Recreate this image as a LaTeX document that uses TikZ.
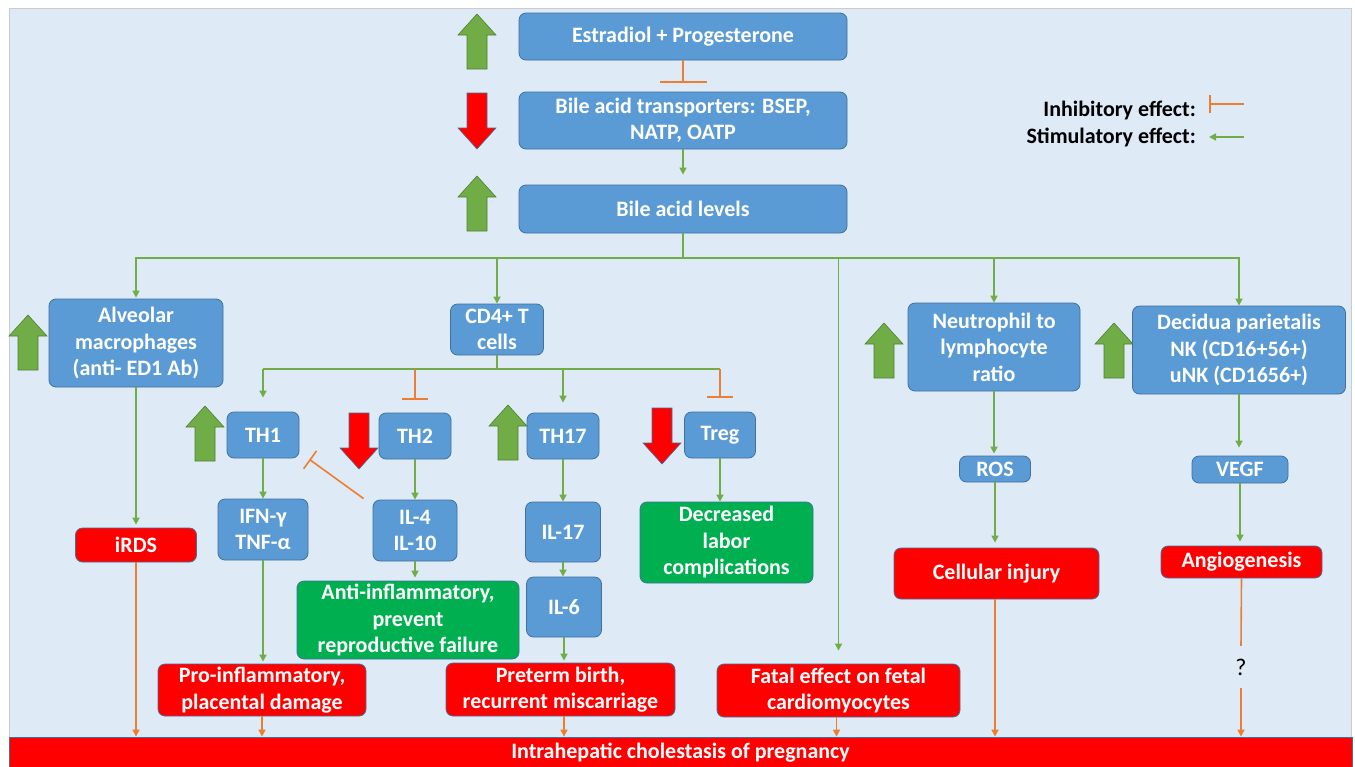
\documentclass[tikz,border=0pt]{standalone}
\usepackage{fontspec}
\setmainfont{Carlito}
\usetikzlibrary{arrows.meta}
\definecolor{boxblue}{HTML}{5B9BD5}
\definecolor{boxline}{HTML}{41719C}
\definecolor{boxred}{HTML}{FF0000}
\definecolor{boxgreen}{HTML}{00B050}
\definecolor{stimgreen}{HTML}{70AD47}
\definecolor{stimdark}{HTML}{507E32}
\definecolor{inhorange}{HTML}{ED7D31}
\definecolor{bgblue}{HTML}{DEEBF7}

\begin{document}
\begin{tikzpicture}[x=1pt, y=-1pt,
    boxbase/.style={rectangle, rounded corners=7pt, draw=boxline, line width=0.8pt,
                    text=white, font=\fontsize{22}{26.5}\selectfont\bfseries,
                    align=center, inner sep=1pt},
    bluebox/.style={boxbase, fill=boxblue},
    redbox/.style={boxbase, fill=boxred},
    greenbox/.style={boxbase, fill=boxgreen},
    sz/.style 2 args={minimum width=#1pt, minimum height=#2pt},
    stim/.style={-{Triangle[length=7pt,width=7pt]}, line width=1.6pt, color=stimgreen},
    inhib/.style={-{Bar[width=26pt]}, line width=1.6pt, color=inhorange},
    effect/.style={-{Triangle[length=7pt,width=7pt]}, line width=1.6pt, color=inhorange},
    legend/.style={font=\fontsize{22}{26}\selectfont\bfseries, inner sep=0pt},
    upblk/.pic={\filldraw[fill=stimgreen, draw=stimdark, line width=0.6pt]
        (19,0) -- (38,21) -- (29,21) -- (29,55) -- (9,55) -- (9,21) -- (0,21) -- cycle;},
    downblk/.pic={\filldraw[fill=boxred, draw=boxline, line width=0.6pt]
        (9,0) -- (29,0) -- (29,35) -- (38,35) -- (19,56) -- (0,35) -- (9,35) -- cycle;}
  ]
    \useasboundingbox (0,0) rectangle (1355,766);
    \filldraw[fill=bgblue, draw=black!20] (9,8) rectangle (1351,770);

    % top chain
    \node[bluebox, sz={328}{47}] (est) at (683,36.5) {Estradiol + Progesterone};
    \node[bluebox, sz={328}{57}] (bat) at (683,120.5) {Bile acid transporters: BSEP,\\NATP, OATP};
    \node[bluebox, sz={328}{48}] (bal) at (683,209) {Bile acid levels};
    \pic at (458,14) {upblk};
    \pic at (458,93) {downblk};
    \pic at (458,176) {upblk};

    % second level
    \node[bluebox, sz={174}{88}] (alv) at (136,343) {Alveolar\\macrophages\\(anti- ED1 Ab)};
    \node[bluebox, sz={93}{51}] (cd4) at (497,329.5) {CD4+ T\\cells};
    \node[bluebox, sz={172}{88}] (neu) at (994,347) {Neutrophil to\\lymphocyte\\ratio};
    \node[bluebox, sz={213}{88}] (dec) at (1239,350) {Decidua parietalis\\NK (CD16+56+)\\uNK (CD1656+)};
    \pic at (9,315) {upblk};
    \pic at (865,323) {upblk};
    \pic at (1095,323) {upblk};

    % T cell subsets
    \node[bluebox, sz={72}{46}] (th1) at (263,435) {TH1};
    \node[bluebox, sz={72}{46}] (th2) at (415,436) {TH2};
    \node[bluebox, sz={72}{46}] (th17) at (563,436) {TH17};
    \node[bluebox, sz={71}{46}] (treg) at (720,435) {Treg};
    \pic at (186,406) {upblk};
    \pic at (340,413) {downblk};
    \pic at (489,405) {upblk};
    \pic at (643,408) {downblk};

    % mediators
    \node[bluebox, sz={90}{61}] (ifn) at (263,529.5) {IFN-γ\\TNF-α};
    \node[bluebox, sz={84}{61}] (il4) at (415,530.5) {IL-4\\IL-10};
    \node[bluebox, sz={75}{60}] (il17) at (563,532) {IL-17};
    \node[bluebox, sz={75}{60}] (il6) at (564,607) {IL-6};
    \node[bluebox, sz={71}{26}] (ros) at (995,469) {ROS};
    \node[bluebox, sz={96}{27}] (vegf) at (1240,469.5) {VEGF};

    % outcomes
    \node[redbox, sz={121}{34}] (irds) at (136,545) {iRDS};
    \node[greenbox, sz={222}{78}] (anti) at (408,620) {Anti-inflammatory,\\prevent\\reproductive failure};
    \node[greenbox, sz={173}{81}] (decr) at (726.5,542.5) {Decreased\\labor\\complications};
    \node[redbox, sz={208}{52}] (pro) at (262,690) {Pro-inflammatory,\\placental damage};
    \node[redbox, sz={229}{53}] (pre) at (560.5,689.5) {Preterm birth,\\recurrent miscarriage};
    \node[redbox, sz={243}{53}] (fatal) at (838.5,690.5) {Fatal effect on fetal\\cardiomyocytes};
    \node[redbox, sz={205}{51}] (cellinj) at (996.5,573.5) {Cellular injury};
    \node[redbox, sz={161}{32}] (angio) at (1241.5,562) {Angiogenesis};
    \node[font=\fontsize{24}{28}\selectfont, minimum height=42pt, inner sep=0pt] (q) at (1241,667) {?};
    \node[redbox, rounded corners=0pt, sz={1343}{31}] (ich) at (680.5,752.5) {Intrahepatic cholestasis of pregnancy};

    % legend
    \node[legend, anchor=east] (inhtxt) at (1196,110) {Inhibitory effect:};
    \node[legend, anchor=east] (stimtxt) at (1196,137) {Stimulatory effect:};
    \coordinate (inhA) at (1244,104);
    \coordinate (inhB) at (1209,104);
    \coordinate (stimA) at (1244,137);
    \coordinate (stimB) at (1209,137);
    \draw[inhib, -{Bar[width=18pt]}] (inhA) -- (inhB);
    \draw[stim] (stimA) -- (stimB);

    % connectors
    \draw[inhib, -{Bar[width=47pt]}, shorten >=9pt] (est.south) -- (bat.north);
    \draw[stim, shorten >=10pt] (bat.south) -- (bal.north);
    \coordinate (hub) at (683,258);
    \draw[stim, -] (bal.south) -- (hub);
    \draw[stim, shorten >=1pt] (hub) -| (alv.north);
    \draw[stim] (hub) -| (cd4.north);
    \draw[stim, shorten >=13pt] (hub) -| (fatal.north);
    \draw[stim] (hub) -| (neu.north);
    \draw[stim] (hub) -| (dec.north);

    \coordinate (tsplit) at (497,369);
    \draw[stim, -] (cd4.south) -- (tsplit);
    \draw[stim, -] (tsplit -| th1.north) -- (tsplit -| treg.north);
    \draw[stim, shorten >=14pt] (tsplit -| th1.north) -- (th1.north);
    \draw[inhib, shorten >=13pt] (tsplit -| th2.north) -- (th2.north);
    \draw[stim, shorten >=10pt] (tsplit -| th17.north) -- (th17.north);
    \draw[inhib, shorten >=14pt] (tsplit -| treg.north) -- (treg.north);

    \draw[stim] (th1.south) -- (ifn.north);
    \draw[stim] (th2.south) -- (il4.north);
    \draw[stim] (th17.south) -- (il17.north);
    \draw[stim] (treg.south) -- (treg.south |- decr.north);
    \draw[inhib, -{Bar[width=22pt]}] ([xshift=-9pt,yshift=1pt]il4.north west) -- ([xshift=10pt,yshift=-1pt]th1.south east);
    \draw[stim, shorten >=2pt] (ifn.south) -- (ifn.south |- pro.north);
    \draw[stim, shorten >=3pt] (il4.south) -- (il4.south |- anti.north);
    \draw[stim] (il17.south) -- (il17.south |- il6.north);
    \draw[stim, shorten >=2pt] (il6.south) -- (il6.south |- pre.north);
    \draw[stim, shorten >=3pt] (alv.south) -- (alv.south |- irds.north);
    \draw[stim, shorten >=2pt] (neu.south) -- (neu.south |- ros.north);
    \draw[stim, shorten >=5pt] (ros.south) -- (ros.south |- cellinj.north);
    \draw[stim, shorten >=8pt] (dec.south) -- (dec.south |- vegf.north);
    \draw[stim, shorten >=4pt] (vegf.south) -- (vegf.south |- angio.north);

    \draw[effect] (irds.south) -- (irds.south |- ich.north);
    \draw[effect] (pro.south) -- (pro.south |- ich.north);
    \draw[effect] (il6.south |- pre.south) -- (il6.south |- ich.north);
    \draw[effect] ([xshift=-2pt]fatal.south) -- ([xshift=-2pt]fatal.south |- ich.north);
    \draw[effect] (cellinj.south -| ros.south) -- (ros.south |- ich.north);
    \draw[effect, -] (angio.south) -- (q.north);
    \draw[effect] (q.south) -- (q.south |- ich.north);
  \end{tikzpicture}
\end{document}
